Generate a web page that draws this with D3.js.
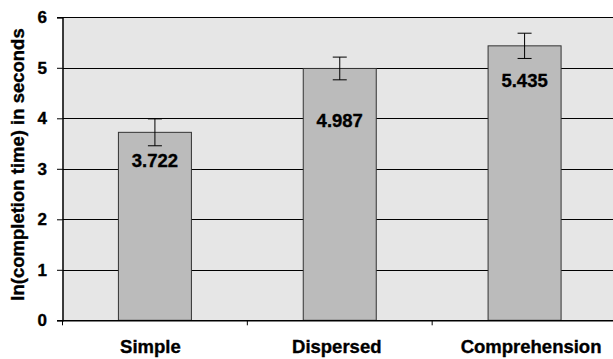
<!DOCTYPE html>
<html><head><meta charset="utf-8">
<script src="https://cdn.jsdelivr.net/npm/d3@7"></script>
<style>
body{margin:0;background:#fff;}
text{font-family:"Liberation Sans",Arial,sans-serif;font-weight:bold;fill:#000;stroke:#000;stroke-width:0.35px;}
</style></head>
<body><svg id="c" width="613" height="359"></svg>
<script>
const categories = ["Simple", "Dispersed", "Comprehension"];
const means = [3.722, 4.987, 5.435];
const errors = [0.266, 0.225, 0.25];
const valueLabels = ["3.722", "4.987", "5.435"];
const yTicks = [0, 1, 2, 3, 4, 5, 6];
const labelDy = [34.5, 59, 41];
const catLabelDx = [-4.5, -3, 6.5];

(function () {
const svg = d3.select("#c");
const mL = 62.5, mR = 617, mT = 17.3, mB = 320.3;
const x = d3.scaleBand().domain(categories).range([mL, mR]).paddingInner(0).paddingOuter(0);
const y = d3.scaleLinear().domain([0, 6]).range([mB, mT]);
const bw = 73;

svg.append("rect").attr("x", mL).attr("y", mT).attr("width", mR - mL).attr("height", mB - mT).attr("fill", "#e6e6e6");

svg.append("g").selectAll("line").data(yTicks.slice(1)).join("line")
  .attr("x1", mL).attr("x2", mR)
  .attr("y1", d => Math.round(y(d)) + 0.5).attr("y2", d => Math.round(y(d)) + 0.5)
  .attr("stroke", "#000").attr("stroke-width", 1);

const g = svg.append("g");
categories.forEach((c, i) => {
  const cx = x(c) + x.bandwidth() / 2;
  g.append("rect").attr("x", cx - bw / 2).attr("y", y(means[i])).attr("width", bw).attr("height", y(0) - y(means[i]))
    .attr("fill", "#bbbbbb").attr("stroke", "#333").attr("stroke-width", 1);
  const t = y(means[i] + errors[i]), b = y(means[i] - errors[i]);
  g.append("line").attr("x1", cx).attr("x2", cx).attr("y1", t).attr("y2", b).attr("stroke", "#000");
  g.append("line").attr("x1", cx - 7).attr("x2", cx + 7).attr("y1", t).attr("y2", t).attr("stroke", "#000");
  g.append("line").attr("x1", cx - 7).attr("x2", cx + 7).attr("y1", b).attr("y2", b).attr("stroke", "#000");
  g.append("text").attr("x", cx).attr("y", y(means[i]) + labelDy[i]).attr("text-anchor", "middle")
    .attr("font-size", 18.5).text(valueLabels[i]);
});

const ya = svg.append("g").attr("transform", `translate(${mL},0)`)
  .call(d3.axisLeft(y).tickValues(yTicks).tickSize(5.5).tickPadding(10).tickFormat(d3.format("d")));
ya.select(".domain").attr("stroke", "#000").attr("stroke-width", 1.5);
ya.selectAll(".tick line").attr("stroke", "#000");
ya.selectAll("text").attr("font-size", 17).style("font-family", "'Liberation Sans',Arial,sans-serif").style("font-weight", "bold");

const xa = svg.append("g").attr("transform", `translate(0,${mB})`)
  .call(d3.axisBottom(x).tickSize(0).tickPadding(0).tickFormat(() => ""));
xa.select(".domain").attr("stroke", "#000").attr("stroke-width", 1.5);
const tickPos = [mL, x(categories[1]), x(categories[2])];
svg.append("g").selectAll("line").data(tickPos).join("line")
  .attr("x1", d => d).attr("x2", d => d).attr("y1", mB).attr("y2", mB + 5).attr("stroke", "#000");
svg.append("g").selectAll("text").data(categories).join("text")
  .attr("x", (d, i) => x(d) + x.bandwidth() / 2 + catLabelDx[i]).attr("y", 352.5).attr("text-anchor", "middle")
  .attr("font-size", 18.5).text(d => d);

svg.append("text").attr("transform", "translate(23.5,164.5) rotate(-90)").attr("text-anchor", "middle")
  .attr("font-size", 18.5).text("ln(completion time) in seconds");
})();
</script></body></html>
